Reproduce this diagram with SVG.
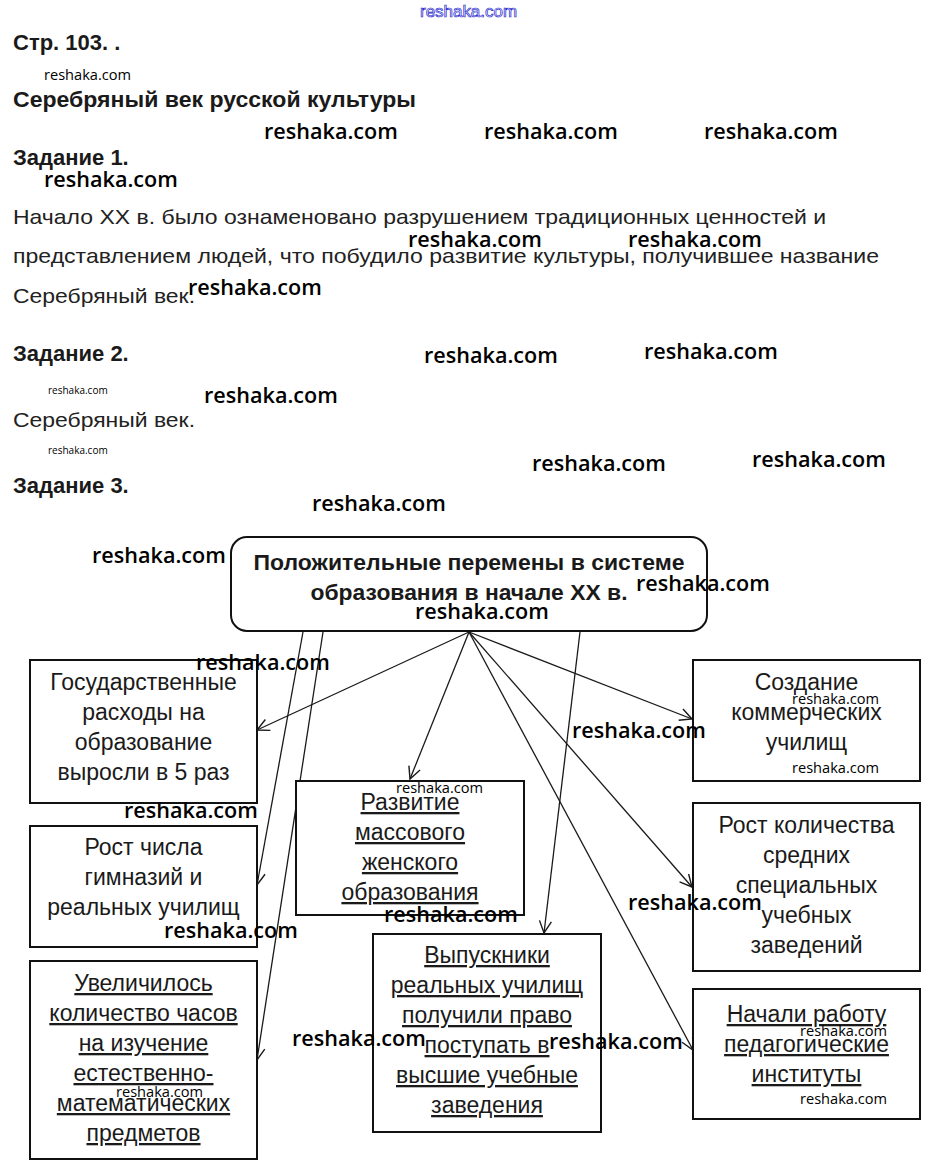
<svg xmlns="http://www.w3.org/2000/svg" width="934" height="1170" viewBox="0 0 934 1170">
<style>
.h{font-family:"Liberation Sans",Arial,sans-serif;font-weight:bold;font-size:22px;fill:#1a1a1a}
.p{font-family:"Liberation Sans",Arial,sans-serif;font-size:21px;fill:#222}
.w{font-family:"Open Sans","DejaVu Sans",sans-serif;font-weight:600;font-size:21.6px;fill:#000}
.ws{font-family:"Open Sans","DejaVu Sans",sans-serif;font-size:14.6px;fill:#000}
.wt{font-family:"Open Sans","DejaVu Sans",sans-serif;font-size:10px;fill:#000}
.box{fill:#fff;stroke:#111;stroke-width:2}
.t{font-family:"Liberation Sans",Arial,sans-serif;font-size:23px;fill:#1a1a1a;text-anchor:middle}
.u{text-decoration:underline}
.c{fill:none;stroke:#1a1a1a;stroke-width:1.3}
</style>
<defs>
<marker id="ah" markerUnits="userSpaceOnUse" markerWidth="16" markerHeight="16" refX="13" refY="7" orient="auto">
<path d="M1,1 L13,7 L1,13" fill="none" stroke="#1a1a1a" stroke-width="1.4"/>
</marker>
</defs>
<rect width="934" height="1170" fill="#fff"/>

<text x="420" y="17" font-family="Liberation Sans,Arial,sans-serif" font-size="16" fill="#fff" stroke="#2a2ad0" stroke-width="0.7" textLength="97" lengthAdjust="spacingAndGlyphs">reshaka.com</text>

<text class="h" x="13" y="50">Стр. 103. .</text>
<text class="ws" x="44" y="80">reshaka.com</text>
<text class="h" x="13" y="107" textLength="403" lengthAdjust="spacingAndGlyphs">Серебряный век русской культуры</text>
<text class="w" x="264" y="139">reshaka.com</text>
<text class="w" x="484" y="139">reshaka.com</text>
<text class="w" x="704" y="139">reshaka.com</text>
<text class="h" x="13" y="165">Задание 1.</text>
<text class="w" x="44" y="187">reshaka.com</text>
<text class="p" x="13" y="224" textLength="813" lengthAdjust="spacingAndGlyphs">Начало XX в. было ознаменовано разрушением традиционных ценностей и</text>
<text class="w" x="408" y="247">reshaka.com</text>
<text class="w" x="628" y="247">reshaka.com</text>
<text class="p" x="13" y="263" textLength="866" lengthAdjust="spacingAndGlyphs">представлением людей, что побудило развитие культуры, получившее название</text>
<text class="p" x="13" y="303" textLength="182" lengthAdjust="spacingAndGlyphs">Серебряный век.</text>
<text class="w" x="188" y="295">reshaka.com</text>
<text class="h" x="13" y="361">Задание 2.</text>
<text class="w" x="424" y="363">reshaka.com</text>
<text class="w" x="644" y="359">reshaka.com</text>
<text class="wt" x="48" y="394">reshaka.com</text>
<text class="w" x="204" y="403">reshaka.com</text>
<text class="p" x="13" y="427" textLength="182" lengthAdjust="spacingAndGlyphs">Серебряный век.</text>
<text class="wt" x="48" y="454">reshaka.com</text>
<text class="w" x="532" y="471">reshaka.com</text>
<text class="w" x="752" y="467">reshaka.com</text>
<text class="h" x="13" y="493">Задание 3.</text>
<text class="w" x="312" y="511">reshaka.com</text>

<g id="connectors">
<line class="c" x1="469" y1="632" x2="257" y2="730" marker-end="url(#ah)"/>
<line class="c" x1="469" y1="632" x2="410" y2="779" marker-end="url(#ah)"/>
<line class="c" x1="469" y1="632" x2="692" y2="719" marker-end="url(#ah)"/>
<line class="c" x1="469" y1="632" x2="692" y2="887" marker-end="url(#ah)"/>
<line class="c" x1="469" y1="632" x2="693" y2="1050" marker-end="url(#ah)"/>
<line class="c" x1="303" y1="632" x2="257" y2="885" marker-end="url(#ah)"/>
<line class="c" x1="323" y1="632" x2="257" y2="1060" marker-end="url(#ah)"/>
<line class="c" x1="580" y1="632" x2="544" y2="933" marker-end="url(#ah)"/>
</g>

<g id="center">
<rect class="box" x="231" y="537" width="476" height="94" rx="16"/>
<text class="h" x="469" y="570" text-anchor="middle" textLength="431" lengthAdjust="spacingAndGlyphs">Положительные перемены в системе</text>
<text class="h" x="469" y="600" text-anchor="middle" textLength="317" lengthAdjust="spacingAndGlyphs">образования в начале XX в.</text>
</g>

<g id="n1">
<rect class="box" x="30" y="660" width="227" height="143"/>
<text class="t" x="143.5" y="690">Государственные</text>
<text class="t" x="143.5" y="720">расходы на</text>
<text class="t" x="143.5" y="750">образование</text>
<text class="t" x="143.5" y="780">выросли в 5 раз</text>
</g>

<g id="n2">
<rect class="box" x="30" y="826" width="227" height="121"/>
<text class="t" x="143.5" y="855">Рост числа</text>
<text class="t" x="143.5" y="885">гимназий и</text>
<text class="t" x="143.5" y="915">реальных училищ</text>
</g>

<g id="n3">
<rect class="box" x="30" y="961" width="227" height="198"/>
<text class="t u" x="143.5" y="991">Увеличилось</text>
<text class="t u" x="143.5" y="1021">количество часов</text>
<text class="t u" x="143.5" y="1051">на изучение</text>
<text class="t u" x="143.5" y="1081">естественно-</text>
<text class="t u" x="143.5" y="1111">математических</text>
<text class="t u" x="143.5" y="1141">предметов</text>
</g>

<g id="n4">
<rect class="box" x="296" y="781" width="228" height="134"/>
<text class="t u" x="410" y="810">Развитие</text>
<text class="t u" x="410" y="840">массового</text>
<text class="t u" x="410" y="870">женского</text>
<text class="t u" x="410" y="900">образования</text>
</g>

<g id="n5">
<rect class="box" x="373" y="934" width="228" height="198"/>
<text class="t u" x="487" y="963">Выпускники</text>
<text class="t u" x="487" y="993">реальных училищ</text>
<text class="t u" x="487" y="1023">получили право</text>
<text class="t u" x="487" y="1053">поступать в</text>
<text class="t u" x="487" y="1083">высшие учебные</text>
<text class="t u" x="487" y="1113">заведения</text>
</g>

<g id="n6">
<rect class="box" x="693" y="660" width="227" height="121"/>
<text class="t" x="806.5" y="690">Создание</text>
<text class="t" x="806.5" y="720">коммерческих</text>
<text class="t" x="806.5" y="750">училищ</text>
</g>

<g id="n7">
<rect class="box" x="693" y="803" width="227" height="168"/>
<text class="t" x="806.5" y="833">Рост количества</text>
<text class="t" x="806.5" y="863">средних</text>
<text class="t" x="806.5" y="893">специальных</text>
<text class="t" x="806.5" y="923">учебных</text>
<text class="t" x="806.5" y="953">заведений</text>
</g>

<g id="n8">
<rect class="box" x="693" y="989" width="227" height="130"/>
<text class="t u" x="806.5" y="1022">Начали работу</text>
<text class="t u" x="806.5" y="1052">педагогические</text>
<text class="t u" x="806.5" y="1082">институты</text>
</g>

<g id="watermarks">
<text class="w" x="92" y="563">reshaka.com</text>
<text class="w" x="636" y="591">reshaka.com</text>
<text class="w" x="415" y="619">reshaka.com</text>
<text class="w" x="196" y="670">reshaka.com</text>
<text class="w" x="124" y="818">reshaka.com</text>
<text class="w" x="164" y="938">reshaka.com</text>
<text class="w" x="572" y="738">reshaka.com</text>
<text class="w" x="628" y="910">reshaka.com</text>
<text class="w" x="384" y="922">reshaka.com</text>
<text class="w" x="292" y="1046">reshaka.com</text>
<text class="w" x="549" y="1049">reshaka.com</text>
<text class="ws" x="396" y="793">reshaka.com</text>
<text class="ws" x="792" y="704">reshaka.com</text>
<text class="ws" x="792" y="773">reshaka.com</text>
<text class="ws" x="800" y="1036">reshaka.com</text>
<text class="ws" x="800" y="1104">reshaka.com</text>
<text class="ws" x="116" y="1097">reshaka.com</text>
</g>
</svg>
